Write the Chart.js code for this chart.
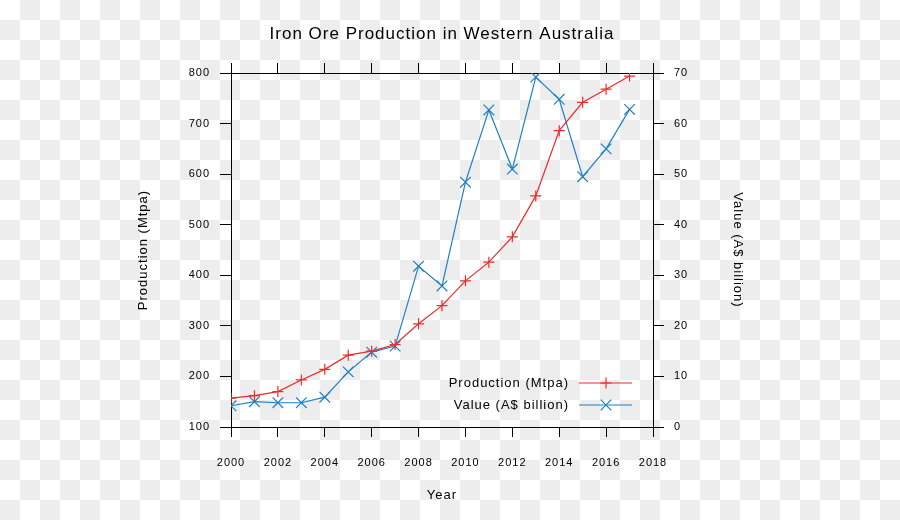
<!DOCTYPE html>
<html>
<head>
<meta charset="utf-8">
<script src="https://cdn.jsdelivr.net/npm/chart.js@4/dist/chart.umd.min.js"></script>
<style>
  html, body { margin: 0; padding: 0; }
  body {
    width: 900px; height: 520px; overflow: hidden;
    background-color: #fff;
    background-image: conic-gradient(#ededed 0 25%, #fff 0 50%, #ededed 0 75%, #fff 0);
    background-size: 40px 40px;
  }
  canvas { display: block; }
</style>
</head>
<body>
<canvas id="chart" width="900" height="520"></canvas>
<script>
const years = [2000, 2001, 2002, 2003, 2004, 2005, 2006, 2007, 2008, 2009,
               2010, 2011, 2012, 2013, 2014, 2015, 2016, 2017];
const production = [157, 162, 170, 193, 214, 242, 250, 263, 304, 340,
                    389, 426, 476, 557, 686, 742, 768, 794];
const value = [4.2, 5.0, 4.8, 4.8, 5.9, 10.9, 14.8, 16.0, 31.8, 27.9,
               48.4, 62.7, 51.0, 69.2, 64.8, 49.5, 55.0, 62.8];

const FONT = "'Liberation Sans', Arial, sans-serif";
const RED = "#ee2a2a";
const BLUE = "#1f80c2";

function toPoints(vals) {
    return years.map((y, i) => ({ x: y, y: vals[i] }));
}

// the original text is a little spaced out
const spacingPlugin = {
    id: "spacing",
    beforeInit(chart) { chart.ctx.letterSpacing = "1px"; },
    beforeDraw(chart) { chart.ctx.letterSpacing = "1px"; }
};

// key drawn inside the panel, bottom right
const keyPlugin = {
    id: "key",
    afterDatasetsDraw(chart) {
        const ctx = chart.ctx;
        const area = chart.chartArea;
        const items = [
            { text: "Production (Mtpa)", color: RED, style: "cross", r: 5.5 },
            { text: "Value (A$ billion)", color: BLUE, style: "crossRot", r: 7.5 }
        ];
        ctx.save();
        ctx.font = "13px " + FONT;
        ctx.textAlign = "right";
        ctx.textBaseline = "middle";
        items.forEach((it, i) => {
            const y = area.bottom - 44 + i * 22;
            ctx.fillStyle = "#000";
            ctx.fillText(it.text, area.right - 84, y);
            ctx.strokeStyle = it.color;
            ctx.lineWidth = 1.2;
            ctx.beginPath();
            ctx.moveTo(area.right - 74, y);
            ctx.lineTo(area.right - 21, y);
            ctx.stroke();
            Chart.helpers.drawPoint(ctx, { pointStyle: it.style, radius: it.r, borderWidth: 1.2 }, area.right - 47, y);
        });
        ctx.restore();
    }
};

const axisBase = {
    grid: { drawOnChartArea: false, color: "#000", tickColor: "#000" },
    border: { color: "#000", width: 1 },
    ticks: { color: "#000", font: { family: FONT, size: 11 } }
};

new Chart(document.getElementById("chart").getContext("2d"), {
    type: "line",
    data: {
        datasets: [
            {
                label: "Production (Mtpa)",
                data: toPoints(production),
                yAxisID: "y",
                borderColor: RED,
                backgroundColor: RED,
                borderWidth: 1.2,
                pointStyle: "cross",
                pointRadius: 5.5,
                pointBorderWidth: 1.2,
                pointBorderColor: RED,
                tension: 0
            },
            {
                label: "Value (A$ billion)",
                data: toPoints(value),
                yAxisID: "y1",
                borderColor: BLUE,
                backgroundColor: BLUE,
                borderWidth: 1.2,
                pointStyle: "crossRot",
                pointRadius: 7.5,
                pointBorderWidth: 1.2,
                pointBorderColor: BLUE,
                tension: 0
            }
        ]
    },
    options: {
        responsive: false,
        animation: false,
        layout: { padding: 0 },
        plugins: {
            legend: { display: false },
            tooltip: { enabled: false },
            title: {
                display: true,
                fullSize: false,
                text: "Iron Ore Production in Western Australia",
                color: "#000",
                font: { family: FONT, size: 17, weight: "normal" },
                padding: { top: 24, bottom: 18.6 }
            }
        },
        scales: {
            x: {
                ...axisBase,
                type: "linear",
                position: "bottom",
                min: 2000,
                max: 2018,
                grid: { ...axisBase.grid, tickLength: 10 },
                ticks: { ...axisBase.ticks, stepSize: 2, padding: 19, maxRotation: 0,
                         callback: v => String(v) },
                title: { display: true, text: "Year", color: "#000",
                         font: { family: FONT, size: 13 }, padding: { bottom: 17 } },
                afterFit(s) { s.height = 93; }
            },
            xTop: {
                ...axisBase,
                type: "linear",
                position: "top",
                min: 2000,
                max: 2018,
                grid: { ...axisBase.grid, tickLength: 10 },
                ticks: { ...axisBase.ticks, stepSize: 2, display: false },
                afterFit(s) { s.height = 10; }
            },
            y: {
                ...axisBase,
                position: "left",
                min: 100,
                max: 800,
                grid: { ...axisBase.grid, tickLength: 11 },
                ticks: { ...axisBase.ticks, stepSize: 100, padding: 10 },
                title: { display: true, text: "Production (Mtpa)", color: "#000",
                         font: { family: FONT, size: 13 }, padding: { top: 136 } },
                afterFit(s) { s.width = 231; }
            },
            y1: {
                ...axisBase,
                position: "right",
                min: 0,
                max: 70,
                grid: { ...axisBase.grid, tickLength: 11 },
                ticks: { ...axisBase.ticks, stepSize: 10, padding: 10 },
                title: { display: true, text: "Value (A$ billion)", color: "#000",
                         font: { family: FONT, size: 13 }, padding: { top: 155 } },
                afterFit(s) { s.width = 247; }
            }
        }
    },
    plugins: [spacingPlugin, keyPlugin]
});
</script>
</body>
</html>
